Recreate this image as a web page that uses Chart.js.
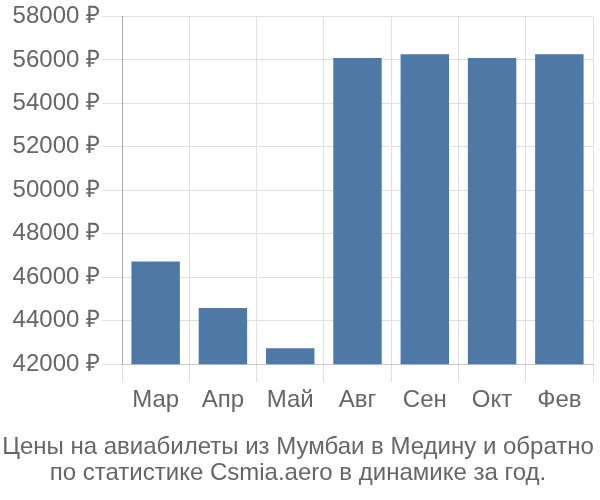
<!DOCTYPE html>
<html>
<head>
<meta charset="utf-8">
<script src="https://cdn.jsdelivr.net/npm/chart.js@4/dist/chart.umd.min.js"></script>
<style>
html,body{margin:0;padding:0;background:#fff;}
#wrap{width:600px;height:500px;}
</style>
</head>
<body>
<div id="wrap"><canvas id="c" width="600" height="500"></canvas></div>
<script>
const categories = ["Мар", "Апр", "Май", "Авг", "Сен", "Окт", "Фев"];
const prices = [46730, 44590, 42740, 56090, 56260, 56090, 56260];
const yTicks = [42000, 44000, 46000, 48000, 50000, 52000, 54000, 56000, 58000];
const titleLines = ["Цены на авиабилеты из Мумбаи в Медину и обратно", "по статистике Csmia.aero в динамике за год."];

const FONT = "'Liberation Sans', Arial, sans-serif";
new Chart(document.getElementById('c'), {
  type: 'bar',
  data: {
    labels: categories,
    datasets: [{
      data: prices,
      backgroundColor: '#4e79a7',
      borderWidth: 0
    }]
  },
  options: {
    responsive: false,
    animation: false,
    layout: { padding: { top: 4, right: 4, left: 0, bottom: 14 } },
    plugins: {
      legend: { display: false },
      tooltip: { enabled: false },
      title: {
        display: true,
        position: 'bottom',
        text: titleLines,
        color: '#666',
        font: { family: FONT, size: 24, weight: 'normal', lineHeight: 1.083 },
        padding: { top: 15, bottom: 0 }
      }
    },
    scales: {
      x: {
        grid: { color: '#e0e0e0', lineWidth: 1, offset: true, tickLength: 18, drawOnChartArea: true },
        border: { color: '#c8c8c8' },
        ticks: { color: '#666', font: { family: FONT, size: 24 }, padding: 4 }
      },
      y: {
        min: 42000,
        max: 58000,
        afterBuildTicks: (axis) => { axis.ticks = yTicks.map(v => ({ value: v })); },
        afterFit: (axis) => { axis.width = 122; },
        grid: { color: '#e0e0e0', lineWidth: 1, tickLength: 20 },
        border: { color: '#aaa' },
        ticks: {
          color: '#666',
          font: { family: FONT, size: 24 },
          padding: 2,
          callback: (v) => v + ' ₽'
        }
      },
      yRight: {
        position: 'right',
        display: true,
        grid: { display: false, drawTicks: false },
        border: { display: false },
        ticks: { display: false },
        afterFit: (axis) => { axis.width = 3; }
      }
    }
  }
});
</script>
</body>
</html>
